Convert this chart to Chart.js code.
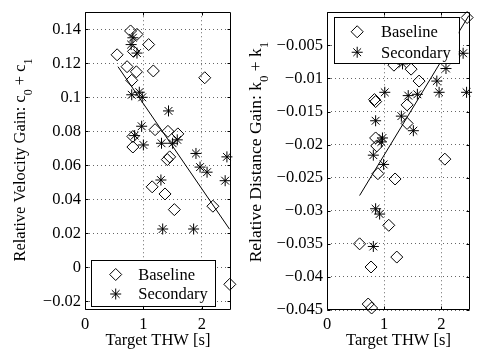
<!DOCTYPE html>
<html>
<head>
<meta charset="utf-8">
<script src="https://cdn.jsdelivr.net/npm/chart.js@4.4.1/dist/chart.umd.min.js"></script>
<style>
  html, body { margin: 0; padding: 0; background: #fff; }
  #wrap { position: relative; width: 477px; height: 352px; }
  .pane { position: absolute; top: 0; height: 352px; }
  #paneL { left: 0; width: 238px; }
  #paneR { left: 238px; width: 239px; }
</style>
</head>
<body>
<div id="wrap">
  <div class="pane" id="paneL"><canvas id="velChart"></canvas></div>
  <div class="pane" id="paneR"><canvas id="distChart"></canvas></div>
</div>
<script>
/* ===== DATA ===== */
const X_TICKS = [0, 1, 2];
const X_TICK_LABELS = ['0', '1', '2'];

// left panel: relative velocity gain
const VEL_TICKS = [-0.02, 0, 0.02, 0.04, 0.06, 0.08, 0.1, 0.12, 0.14];
const VEL_TICK_LABELS = ['\u22120.02', '0', '0.02', '0.04', '0.06', '0.08', '0.1', '0.12', '0.14'];
const VEL_BASE_X = [0.78, 0.89, 0.55, 1.09, 0.83, 0.72, 0.88, 1.17, 0.80, 2.05, 1.20, 1.42, 1.59, 0.82, 0.82, 1.41, 1.45, 1.15, 1.37, 1.53, 2.19, 2.48];
const VEL_BASE_Y = [0.139, 0.137, 0.125, 0.131, 0.127, 0.118, 0.115, 0.1155, 0.110, 0.1115, 0.081, 0.080, 0.0785, 0.077, 0.0708, 0.0634, 0.065, 0.0474, 0.0432, 0.034, 0.036, -0.0099];
const VEL_SEC_X = [0.82, 0.79, 0.89, 0.80, 0.93, 0.98, 1.43, 0.97, 0.85, 1.00, 1.31, 1.50, 1.58, 1.90, 1.97, 2.09, 2.43, 2.40, 1.30, 1.33, 1.86];
const VEL_SEC_Y = [0.135, 0.131, 0.126, 0.1015, 0.103, 0.100, 0.092, 0.083, 0.0775, 0.072, 0.073, 0.073, 0.075, 0.067, 0.059, 0.056, 0.065, 0.051, 0.0514, 0.0226, 0.0226];
const VEL_FIT_X = [0.565, 2.475];
const VEL_FIT_Y = [0.118, 0.0225];

// right panel: relative distance gain
const DIST_TICKS = [-0.045, -0.04, -0.035, -0.03, -0.025, -0.02, -0.015, -0.01, -0.005];
const DIST_TICK_LABELS = ['\u22120.045', '\u22120.04', '\u22120.035', '\u22120.03', '\u22120.025', '\u22120.02', '\u22120.015', '\u22120.01', '\u22120.005'];
const DIST_BASE_X = [2.45, 1.17, 1.47, 1.61, 2.22, 0.83, 0.85, 1.40, 1.40, 0.85, 0.87, 2.06, 0.89, 1.19, 1.08, 0.57, 1.22, 0.77, 0.72, 0.78];
const DIST_BASE_Y = [-0.0008, -0.008, -0.0086, -0.0104, -0.0062, -0.0132, -0.0135, -0.014, -0.0168, -0.019, -0.0202, -0.0222, -0.0244, -0.0252, -0.0322, -0.035, -0.037, -0.0385, -0.0441, -0.0447];
const DIST_SEC_X = [2.38, 2.08, 1.92, 1.96, 2.44, 1.01, 1.42, 1.58, 1.32, 0.85, 1.30, 1.51, 0.97, 0.95, 0.81, 0.99, 0.85, 0.92, 0.81];
const DIST_SEC_Y = [-0.0062, -0.0085, -0.0104, -0.0121, -0.0121, -0.0121, -0.0126, -0.0124, -0.0078, -0.0164, -0.0157, -0.0179, -0.019, -0.0196, -0.0216, -0.023, -0.0297, -0.0305, -0.0354];
const DIST_FIT_X = [0.57, 2.48];
const DIST_FIT_Y = [-0.0277, -0.0005];

const FONT = '"Liberation Serif", "Times New Roman", serif';
const pts = (xs, ys) => xs.map((x, i) => ({ x, y: ys[i] }));

/* ===== PLUGINS ===== */
// box round the axes with inward tick marks, like MATLAB
const matlabFrame = {
  id: 'matlabFrame',
  afterDatasetsDraw(chart) {
    const { ctx, chartArea: a, scales: { x, y } } = chart;
    const L = Math.round(a.left) + 0.5, R = Math.round(a.right) - 0.5;
    const T = Math.round(a.top) + 0.5, B = Math.round(a.bottom) - 0.5;
    ctx.save();
    ctx.strokeStyle = '#000';
    ctx.lineWidth = 1;
    ctx.beginPath();
    ctx.rect(L, T, R - L, B - T);
    x.ticks.forEach(t => {
      const px = Math.round(x.getPixelForValue(t.value)) + 0.5;
      ctx.moveTo(px, B); ctx.lineTo(px, B - 3);
      ctx.moveTo(px, T); ctx.lineTo(px, T + 3);
    });
    y.ticks.forEach(t => {
      const py = Math.round(y.getPixelForValue(t.value)) + 0.5;
      ctx.moveTo(L, py); ctx.lineTo(L + 3, py);
      ctx.moveTo(R, py); ctx.lineTo(R - 3, py);
    });
    ctx.stroke();
    ctx.restore();
  }
};

// rotated y title with TeX-like subscripts
const yTitle = {
  id: 'yTitle',
  afterDraw(chart, args, o) {
    const ctx = chart.ctx;
    const main = o.size + 'px ' + FONT;
    const sub = Math.round(o.size * 0.72) + 'px ' + FONT;
    ctx.save();
    let total = 0;
    const parts = o.parts.map(p => {
      ctx.font = p.sub ? sub : main;
      const w = ctx.measureText(p.t).width;
      total += w;
      return { t: p.t, sub: p.sub, w };
    });
    ctx.translate(o.x, o.cy);
    ctx.rotate(-Math.PI / 2);
    ctx.fillStyle = '#000';
    ctx.textBaseline = 'alphabetic';
    let pos = -total / 2;
    parts.forEach(p => {
      ctx.font = p.sub ? sub : main;
      ctx.fillText(p.t, pos, p.sub ? o.size * 0.42 : 0);
      pos += p.w;
    });
    ctx.restore();
  }
};

// boxed legend placed inside the axes
const boxLegend = {
  id: 'boxLegend',
  afterDraw(chart, args, o) {
    const { ctx, chartArea: a } = chart;
    const bx = a.left + o.x;
    const by = o.fromBottom ? a.bottom - o.y - o.h : a.top + o.y;
    ctx.save();
    ctx.fillStyle = '#fff';
    ctx.fillRect(bx, by, o.w, o.h);
    ctx.strokeStyle = '#000';
    ctx.lineWidth = 1;
    ctx.strokeRect(Math.round(bx) + 0.5, Math.round(by) + 0.5, Math.round(o.w), Math.round(o.h));
    chart.data.datasets.filter(d => d.inLegend).forEach((d, i) => {
      const ry = by + o.rows[i];
      ctx.strokeStyle = '#000';
      ctx.fillStyle = 'rgba(0,0,0,0)';
      ctx.lineWidth = 1;
      Chart.helpers.drawPoint(ctx, { pointStyle: d.pointStyle, radius: d.pointRadius, borderWidth: 1, rotation: 0 }, bx + o.symX, ry);
      ctx.fillStyle = '#000';
      ctx.font = o.size + 'px ' + FONT;
      ctx.textBaseline = 'middle';
      ctx.textAlign = 'left';
      ctx.fillText(d.label, bx + o.textX, ry + 1);
    });
    ctx.restore();
  }
};

/* ===== CHART FACTORY ===== */
function makeChart(id, cfg) {
  return new Chart(document.getElementById(id), {
    type: 'scatter',
    data: {
      datasets: [
        {
          label: 'Baseline', data: pts(cfg.baseX, cfg.baseY), inLegend: true,
          pointStyle: 'rectRot', pointRadius: 6, pointHoverRadius: 6,
          borderColor: '#000', backgroundColor: 'rgba(0,0,0,0)', borderWidth: 1, clip: false
        },
        {
          label: 'Secondary', data: pts(cfg.secX, cfg.secY), inLegend: true,
          pointStyle: 'star', pointRadius: 5.5, pointHoverRadius: 5.5,
          borderColor: '#000', backgroundColor: 'rgba(0,0,0,0)', borderWidth: 1, clip: false
        },
        {
          label: 'fit', data: pts(cfg.fitX, cfg.fitY), showLine: true,
          pointRadius: 0, borderColor: '#000', borderWidth: 1, fill: false, tension: 0
        }
      ]
    },
    options: {
      responsive: true,
      maintainAspectRatio: false,
      animation: false,
      events: [],
      layout: { padding: { left: 0, top: 10, right: cfg.padRight, bottom: 0 } },
      scales: {
        x: {
          type: 'linear', min: 0, max: 2.5,
          afterBuildTicks: s => { s.ticks = X_TICKS.map(v => ({ value: v })); },
          afterFit: s => { s.height = 42; },
          ticks: {
            callback: (v, i) => X_TICK_LABELS[i],
            color: '#000', padding: 6, maxRotation: 0,
            font: { family: FONT, size: 16.5, lineHeight: 1 }
          },
          grid: { color: 'rgba(0,0,0,0.6)', drawTicks: false, lineWidth: 1 },
          border: { display: false, dash: [1, 3] },
          title: {
            display: true, text: 'Target THW [s]', color: '#000',
            font: { family: FONT, size: 16.5, lineHeight: 1.2 },
            padding: { top: 0, bottom: 1 }
          }
        },
        y: {
          type: 'linear', min: cfg.yMin, max: cfg.yMax,
          afterBuildTicks: s => { s.ticks = cfg.yTicks.map(v => ({ value: v })); },
          afterFit: s => { s.width = cfg.yWidth; },
          ticks: {
            callback: (v, i) => cfg.yLabels[i],
            color: '#000', padding: 4,
            font: { family: FONT, size: 16.5, lineHeight: 1 }
          },
          grid: { color: 'rgba(0,0,0,0.6)', drawTicks: false, lineWidth: 1 },
          border: { display: false, dash: [1, 3] }
        }
      },
      plugins: {
        legend: { display: false },
        tooltip: { enabled: false },
        yTitle: cfg.title,
        boxLegend: cfg.legend
      }
    },
    plugins: [matlabFrame, yTitle, boxLegend]
  });
}

/* ===== LEFT: VELOCITY GAIN ===== */
makeChart('velChart', {
  baseX: VEL_BASE_X, baseY: VEL_BASE_Y,
  secX: VEL_SEC_X, secY: VEL_SEC_Y,
  fitX: VEL_FIT_X, fitY: VEL_FIT_Y,
  yMin: -0.025, yMax: 0.15, yTicks: VEL_TICKS, yLabels: VEL_TICK_LABELS,
  yWidth: 85, padRight: 5,
  title: {
    x: 25, cy: 160, size: 16.5,
    parts: [{ t: 'Relative Velocity Gain: c' }, { t: '0', sub: true }, { t: ' + c' }, { t: '1', sub: true }]
  },
  legend: { x: 5.7, y: 4.5, fromBottom: true, w: 124, h: 46, symX: 25, textX: 47.5, rows: [15, 34.5], size: 16.5 }
});

/* ===== RIGHT: DISTANCE GAIN ===== */
makeChart('distChart', {
  baseX: DIST_BASE_X, baseY: DIST_BASE_Y,
  secX: DIST_SEC_X, secY: DIST_SEC_Y,
  fitX: DIST_FIT_X, fitY: DIST_FIT_Y,
  yMin: -0.045, yMax: 0, yTicks: DIST_TICKS, yLabels: DIST_TICK_LABELS,
  yWidth: 89, padRight: 1,
  title: {
    x: 23, cy: 152, size: 17.5,
    parts: [{ t: 'Relative Distance Gain: k' }, { t: '0', sub: true }, { t: ' + k' }, { t: '1', sub: true }]
  },
  legend: { x: 6.7, y: 5, fromBottom: false, w: 125, h: 46, symX: 23.5, textX: 47.3, rows: [14.5, 35], size: 16.5 }
});
</script>
</body>
</html>
